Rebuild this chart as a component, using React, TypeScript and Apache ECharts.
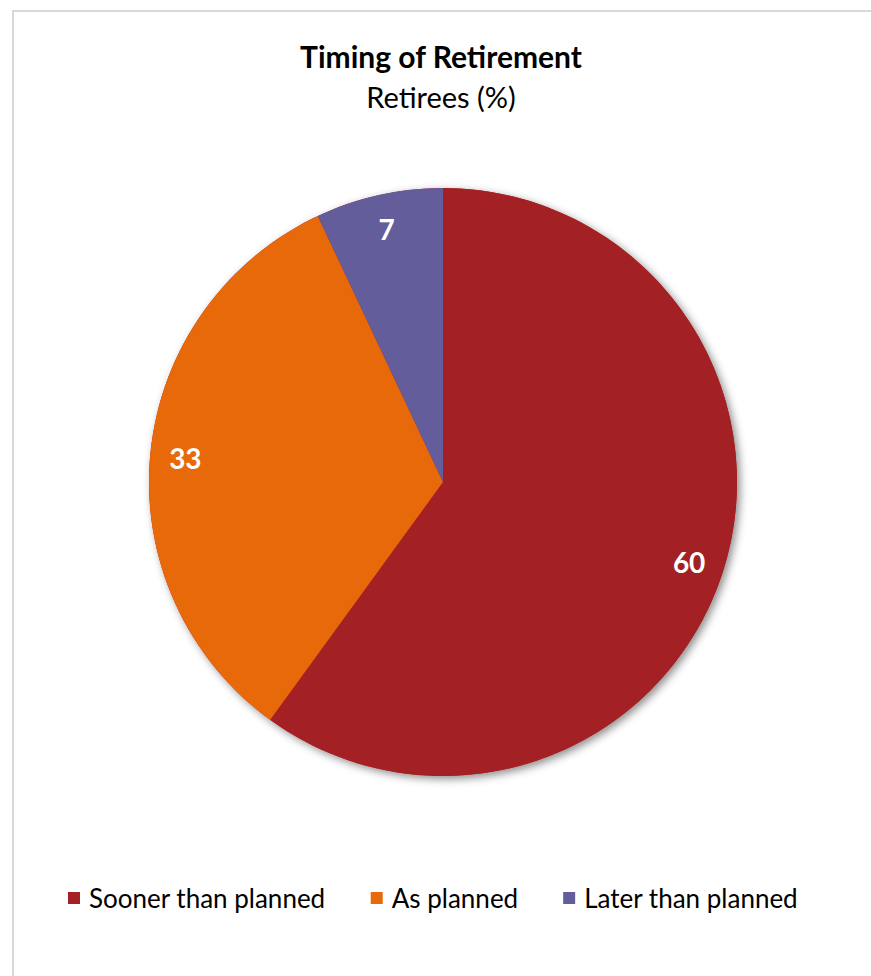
import React, { useEffect, useRef } from "react";
import * as echarts from "echarts";

const categories = ["Sooner than planned", "As planned", "Later than planned"];
const values = [60, 33, 7];
const colors = ["#A32124", "#E8690A", "#635D9C"];
const titleText = "Timing of Retirement";
const subtitleText = "Retirees (%)";

const FONT = "Lato, 'Noto Sans', sans-serif";

export default function App() {
  const ref = useRef<HTMLDivElement>(null);
  useEffect(() => {
    if (!ref.current) return;
    const chart = echarts.init(ref.current, undefined, { renderer: "svg" });
    const R = 294;
    const center = [443, 482];
    const data = categories.map((name, i) => ({
      name,
      value: values[i],
      itemStyle: { color: colors[i] },
    }));
    chart.setOption({
      animation: false,
      backgroundColor: "#ffffff",
      graphic: [
        {
          type: "rect",
          shape: { x: 13, y: 11, width: 1000, height: 1100 },
          style: { fill: "none", stroke: "#D9D9D9", lineWidth: 2 },
          silent: true,
          z: 0,
        },
        {
          type: "text",
          x: 441,
          y: 56,
          style: {
            text: titleText,
            font: `bold 30px ${FONT}`,
            fill: "#000000",
            textAlign: "center",
            textVerticalAlign: "middle",
          },
        },
        {
          type: "text",
          x: 441,
          y: 96,
          style: {
            text: subtitleText,
            font: `29px ${FONT}`,
            fill: "#000000",
            textAlign: "center",
            textVerticalAlign: "middle",
          },
        },
      ],
      legend: {
        data: categories.map((name, i) => ({ name, itemStyle: { color: colors[i] } })),
        left: 63,
        top: 880,
        icon: "rect",
        itemWidth: 12,
        itemHeight: 12,
        itemGap: 45,
        selectedMode: false,
        textStyle: {
          fontFamily: FONT,
          fontSize: 26,
          color: "#000000",
          padding: [0, 0, 0, 4],
        },
      },
      series: [
        {
          type: "pie",
          name: "shadow",
          center,
          radius: [0, R],
          silent: true,
          label: { show: false },
          labelLine: { show: false },
          data: [{ value: 1, name: "__bg", itemStyle: { color: "#A32124" } }],
          itemStyle: {
            shadowBlur: 8,
            shadowColor: "rgba(0,0,0,0.45)",
            shadowOffsetX: 3,
            shadowOffsetY: 3,
          },
          z: 1,
        },
        {
          type: "pie",
          name: "Timing",
          center,
          radius: [0, R],
          startAngle: 90,
          clockwise: true,
          silent: true,
          label: { show: false },
          labelLine: { show: false },
          data,
          z: 2,
        },
        {
          type: "pie",
          name: "labels",
          center,
          radius: [R * 0.74, R],
          startAngle: 90,
          clockwise: true,
          silent: true,
          itemStyle: { color: "rgba(0,0,0,0)" },
          label: {
            show: true,
            position: "inside",
            formatter: "{c}",
            color: "#ffffff",
            fontFamily: FONT,
            fontWeight: "bold",
            fontSize: 28,
          },
          labelLine: { show: false },
          data: categories.map((name, i) => ({
            name,
            value: values[i],
            itemStyle: { color: "rgba(0,0,0,0)" },
          })),
          z: 3,
        },
      ],
    });
    return () => chart.dispose();
  }, []);
  return (
    <div
      ref={ref}
      style={{ position: "absolute", left: 0, top: 0, width: 871, height: 976 }}
    />
  );
}
